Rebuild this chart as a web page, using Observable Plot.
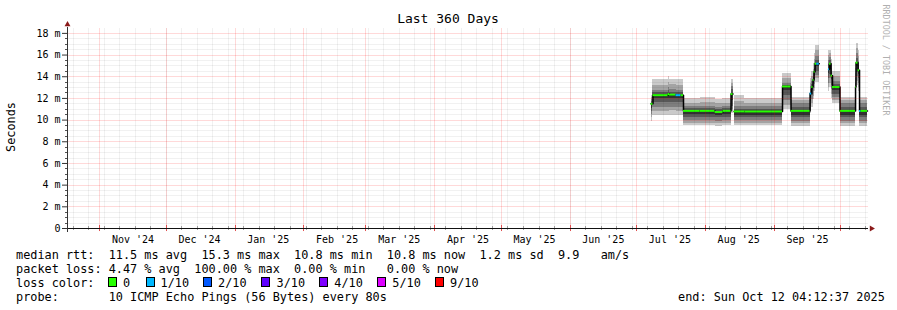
<!DOCTYPE html>
<html><head><meta charset="utf-8">
<script src="https://cdn.jsdelivr.net/npm/d3@7"></script>
<script src="https://cdn.jsdelivr.net/npm/@observablehq/plot@0.6"></script>
<style>
html,body{margin:0;padding:0;background:#fff;}
#wrap{position:relative;width:897px;height:310px;overflow:hidden;background:#fff;font-family:"DejaVu Sans Mono",monospace;color:#000;}
#chart{position:absolute;left:0;top:0;}
.t{position:absolute;white-space:pre;font-size:11.85px;line-height:14px;}
.box{position:absolute;width:7px;height:8px;border:1px solid #000;}
</style>
</head><body>
<div id="wrap">
  <div id="chart"></div>
</div>
<script>
// ---------------- data ----------------
const xDomain = ["2024-10-17T12:00Z", "2025-10-13T12:00Z"];
const yMax = 18.45;

const binStart = [
  "2025-07-07T12:00Z","2025-07-08T09:00Z","2025-07-15T04:00Z","2025-07-15T20:00Z","2025-07-18T18:00Z",
  "2025-07-21T00:00Z","2025-07-22T03:00Z","2025-07-29T14:00Z","2025-08-05T08:00Z","2025-08-08T22:00Z",
  "2025-08-12T13:00Z","2025-08-13T22:00Z","2025-08-18T20:00Z","2025-09-04T18:00Z","2025-09-08T14:00Z",
  "2025-09-17T04:00Z","2025-09-17T22:00Z","2025-09-18T12:00Z","2025-09-18T23:00Z","2025-09-19T10:00Z",
  "2025-09-20T04:00Z","2025-09-25T12:00Z","2025-09-25T22:00Z","2025-09-26T15:00Z","2025-09-27T07:00Z",
  "2025-09-30T16:00Z","2025-10-07T16:00Z","2025-10-07T21:00Z","2025-10-08T19:00Z","2025-10-09T11:00Z",
  "2025-10-10T03:00Z"
];
const binEnd = [
  "2025-07-08T09:00Z","2025-07-15T04:00Z","2025-07-15T20:00Z","2025-07-18T18:00Z","2025-07-21T00:00Z",
  "2025-07-22T03:00Z","2025-07-29T14:00Z","2025-08-05T08:00Z","2025-08-08T22:00Z","2025-08-12T13:00Z",
  "2025-08-13T11:00Z","2025-08-18T20:00Z","2025-09-04T18:00Z","2025-09-08T14:00Z","2025-09-17T04:00Z",
  "2025-09-17T22:00Z","2025-09-18T12:00Z","2025-09-18T23:00Z","2025-09-19T10:00Z","2025-09-20T04:00Z",
  "2025-09-21T08:00Z","2025-09-25T22:00Z","2025-09-26T15:00Z","2025-09-27T07:00Z","2025-09-30T16:00Z",
  "2025-10-07T16:00Z","2025-10-07T21:00Z","2025-10-08T19:00Z","2025-10-09T11:00Z","2025-10-10T03:00Z",
  "2025-10-13T01:30Z"
];
const median = [
  11.5, 12.3, 12.4, 12.35, 12.3,
  12.3, 10.85, 10.85, 10.75, 10.85,
  12.4, 10.8, 10.8, 13.1, 10.85,
  12.45, 13.05, 13.7, 14.45, 15.2,
  15.2, 14.7, 15.2, 14.1, 13.05,
  10.85, 13.05, 15.3, 14.6, 10.85,
  10.85
];
const lossTenths = [
  0,0,0,0,1,
  0,0,0,0,0,
  0,0,0,0,0,
  1,0,0,0,0,
  1,1,0,0,0,
  0,0,0,0,1,
  0
];
// 10 sorted ping rtts (ms) per bin
const pings = [
  [9.9,10.2,10.5,10.8,11.1,11.5,11.7,11.9,12.1,12.3],
  [10.43,10.83,11.2,11.66,11.97,12.3,12.5,12.74,13.2,13.73],
  [10.4,10.8,11.2,11.6,12.0,12.4,12.7,13.0,13.5,14.0],
  [10.45,10.85,11.2,11.65,12.0,12.35,12.55,12.8,13.25,13.7],
  [10.43,10.83,11.2,11.66,11.97,12.3,12.5,12.74,13.2,13.73],
  [10.43,10.83,11.2,11.66,11.97,12.3,12.5,12.74,13.2,13.73],
  [9.51,9.72,9.97,10.28,10.5,10.85,11.05,11.26,11.57,11.97],
  [9.5,9.72,9.97,10.28,10.5,10.85,11.05,11.3,11.6,12.05],
  [9.45,9.65,9.9,10.2,10.42,10.75,10.95,11.2,11.5,11.9],
  [9.51,9.72,9.97,10.28,10.5,10.85,11.05,11.26,11.57,11.97],
  [10.6,10.8,11.0,11.3,11.8,12.4,12.8,13.1,13.4,13.7],
  [9.5,9.7,9.95,10.25,10.45,10.8,11.0,11.3,11.7,12.3],
  [9.5,9.7,9.95,10.25,10.45,10.8,11.0,11.25,11.55,11.95],
  [11.0,11.36,11.82,12.28,12.74,13.1,13.2,13.42,13.82,14.28],
  [9.45,9.67,9.88,10.2,10.43,10.85,11.2,11.5,11.8,12.1],
  [10.6,10.9,11.3,11.7,12.1,12.45,12.8,13.1,13.4,13.8],
  [11.2,11.5,11.9,12.3,12.7,13.05,13.3,13.6,14.0,14.5],
  [11.9,12.2,12.6,13.0,13.4,13.7,14.0,14.3,14.7,15.2],
  [12.6,12.9,13.3,13.7,14.1,14.45,14.8,15.2,15.6,16.1],
  [13.5,13.8,14.1,14.5,14.9,15.2,15.5,15.9,16.4,16.9],
  [13.5,13.8,14.1,14.5,14.9,15.2,15.5,15.9,16.4,16.9],
  [12.6,13.0,13.4,13.8,14.3,14.7,15.1,15.5,16.0,16.4],
  [13.0,13.4,13.8,14.2,14.7,15.2,15.5,15.8,16.1,16.4],
  [12.0,12.4,12.8,13.2,13.7,14.1,14.4,14.8,15.2,15.6],
  [11.5,11.8,12.1,12.4,12.75,13.05,13.3,13.6,14.0,14.45],
  [9.45,9.67,9.88,10.2,10.43,10.85,11.2,11.5,11.8,12.1],
  [11.4,11.8,12.1,12.4,12.7,13.05,13.4,13.8,14.3,14.8],
  [13.2,13.6,14.0,14.4,14.9,15.3,15.7,16.1,16.6,17.1],
  [12.6,13.0,13.4,13.8,14.2,14.6,15.0,15.4,15.9,16.4],
  [9.45,9.67,9.88,10.2,10.43,10.85,11.2,11.5,11.8,12.1],
  [9.45,9.67,9.88,10.2,10.43,10.85,11.2,11.5,11.8,12.1]
];

const yTicks = [0,2,4,6,8,10,12,14,16,18];
const yTickLabels = ["0","2 m","4 m","6 m","8 m","10 m","12 m","14 m","16 m","18 m"];
const monthLabelDates = ["2024-11-16","2024-12-16","2025-01-16","2025-02-16","2025-03-16","2025-04-16",
  "2025-05-16","2025-06-16","2025-07-16","2025-08-16","2025-09-16"];
const monthLabels = ["Nov '24","Dec '24","Jan '25","Feb '25","Mar '25","Apr '25","May '25","Jun '25","Jul '25","Aug '25","Sep '25"];

const smokeColors = ["#cacaca","#a4a4a4","#7e7e7e","#585858","#323232"];
const lossColors = {0:"#26ff00",1:"#00b8ff",2:"#0059ff",3:"#5e00ff",4:"#7e00ff",5:"#dd00ff",9:"#ff0000"};
const legendLoss = ["0","1/10","2/10","3/10","4/10","5/10","9/10"];
const legendLossKeys = [0,1,2,3,4,5,9];

// ---------------- build ----------------
const t0 = new Date(xDomain[0]), t1 = new Date(xDomain[1]);
const bins = binStart.map((s, i) => ({
  start: new Date(s), end: new Date(binEnd[i]), med: median[i], loss: lossTenths[i], p: pings[i]
}));
const linePts = [];
bins.forEach((b, i) => {
  linePts.push({t: b.start, v: b.med});
  if (i === bins.length - 1 || binStart[i + 1] !== binEnd[i]) {
    linePts.push({t: b.end, v: b.med});
    linePts.push({t: b.end, v: NaN});
  }
});

const frame = {
  width: 897, height: 310,
  marginLeft: 67, marginRight: 29, marginTop: 28, marginBottom: 82,
  x: {type: "utc", domain: [t0, t1], axis: null},
  y: {domain: [0, yMax], axis: null}
};
// probe the library's scales so grid lines can be snapped to whole pixels
const probe = Plot.plot({...frame, marks: []});
const xs = probe.scale("x"), ys = probe.scale("y");
const snapX = d => xs.invert(Math.round(xs.apply(d)));
const snapY = v => ys.invert(Math.round(ys.apply(v)));

const yMinor = d3.range(0.5, 18.01, 0.5).filter(v => v % 2 !== 0).map(snapY);
const yMajor = yTicks.filter(v => v > 0).map(snapY);
const weeks = d3.utcSunday.range(t0, t1).map(snapX);
const months = d3.utcMonth.range(t0, t1).map(snapX);

const bandMarks = smokeColors.map((c, i) =>
  Plot.rectY(bins, {x1: "start", x2: "end", y1: d => d.p[i], y2: d => d.p[9 - i], fill: c, inset: 0, shapeRendering: "crispEdges"})
);

const minorCol = "rgba(0,0,0,0.11)";
const majorCol = "rgba(255,0,0,0.3)";
const dotted = {strokeDasharray: "1,1", strokeDashoffset: 0.5};

const chart = Plot.plot({
  ...frame,
  style: {background: "none", fontFamily: "DejaVu Sans Mono", fontSize: "10px", color: "#000", overflow: "visible"},
  marks: [
    ...bandMarks,
    Plot.line(linePts, {x: "t", y: "v", curve: "step-after", stroke: "#000", strokeWidth: 1.5}),
    Plot.ruleY(bins, {y: "med", x1: "start", x2: "end", stroke: d => lossColors[d.loss], strokeWidth: 2}),
    // grid
    Plot.ruleY(yMinor, {stroke: minorCol, ...dotted}),
    Plot.ruleX(weeks, {y1: 0, y2: yMax, stroke: minorCol, ...dotted}),
    Plot.ruleY(yMajor, {stroke: majorCol, ...dotted}),
    Plot.ruleX(months, {y1: 0, y2: yMax, stroke: majorCol, ...dotted}),
    // x-axis ticks
    Plot.ruleX(weeks, {y1: -0.18, y2: 0.18, stroke: "#999"}),
    Plot.ruleX(months, {y1: -0.28, y2: 0.28, stroke: "#e05050"}),
    // axes
    Plot.ruleY([0], {stroke: "#111", shapeRendering: "crispEdges"}),
    Plot.ruleX([t0], {y1: -0.4, y2: yMax + 0.05, stroke: "#333", shapeRendering: "crispEdges"}),
    Plot.axisY({ticks: yMinor, tickSize: 2, tickFormat: () => "", stroke: "#555"}),
    Plot.axisY({ticks: yTicks, tickSize: 5, tickPadding: 2, tickFormat: (d) => yTickLabels[yTicks.indexOf(d)], stroke: "#333", fill: "#000"}),
    Plot.axisX({ticks: monthLabelDates.map(s => new Date(s + "T00:00Z")), tickSize: 0, tickPadding: 7,
      tickFormat: (d) => monthLabels[monthLabelDates.indexOf(d3.utcFormat("%Y-%m-%d")(d))], fill: "#000"}),
    // arrows
    Plot.dot([0], {x: () => t0, y: () => yMax, symbol: "triangle", r: 2.2, fill: "#8b1a1a", stroke: null, dy: -4}),
    Plot.dot([0], {x: () => t1, y: () => 0, symbol: "triangle", rotate: 90, r: 2.2, fill: "#8b1a1a", stroke: null, dx: 3})
  ]
});
document.getElementById("chart").appendChild(chart);

// ---------------- texts ----------------
const wrap = document.getElementById("wrap");
function addText(txt, left, top, extra) {
  const d = document.createElement("div");
  d.className = "t"; d.textContent = txt;
  d.style.left = left + "px"; d.style.top = top + "px";
  if (extra) Object.assign(d.style, extra);
  wrap.appendChild(d);
  return d;
}
addText("Last 360 Days", 448, 12, {fontSize: "13px", transform: "translateX(-50%)"});
addText("Seconds", 11, 127, {transform: "translate(-50%,-50%) rotate(-90deg)"});
addText("RRDTOOL / TOBI OETIKER", 886, 60, {fontSize: "8.4px", color: "#b0b0b0", transform: "translate(-50%,-50%) rotate(90deg)"});

const rowTop = [247.9, 261.9, 275.9, 289.9];
addText("median rtt:  11.5 ms avg  15.3 ms max  10.8 ms min  10.8 ms now  1.2 ms sd  9.9   am/s", 16, rowTop[0]);
addText("packet loss: 4.47 % avg  100.00 % max  0.00 % min   0.00 % now", 16, rowTop[1]);
addText("loss color:", 16, rowTop[2]);
addText("probe:       10 ICMP Echo Pings (56 Bytes) every 80s", 16, rowTop[3]);
addText("end: Sun Oct 12 04:12:37 2025", 678, rowTop[3]);

const boxX = [108, 145.5, 203, 261, 319, 377, 435];
const labX = [123, 160.5, 218, 276.5, 334.3, 392.3, 450];
legendLoss.forEach((lab, i) => {
  const b = document.createElement("div");
  b.className = "box";
  b.style.left = boxX[i] + "px"; b.style.top = "277px";
  b.style.background = lossColors[legendLossKeys[i]];
  wrap.appendChild(b);
  addText(lab, labX[i], rowTop[2]);
});
</script>
</body></html>
